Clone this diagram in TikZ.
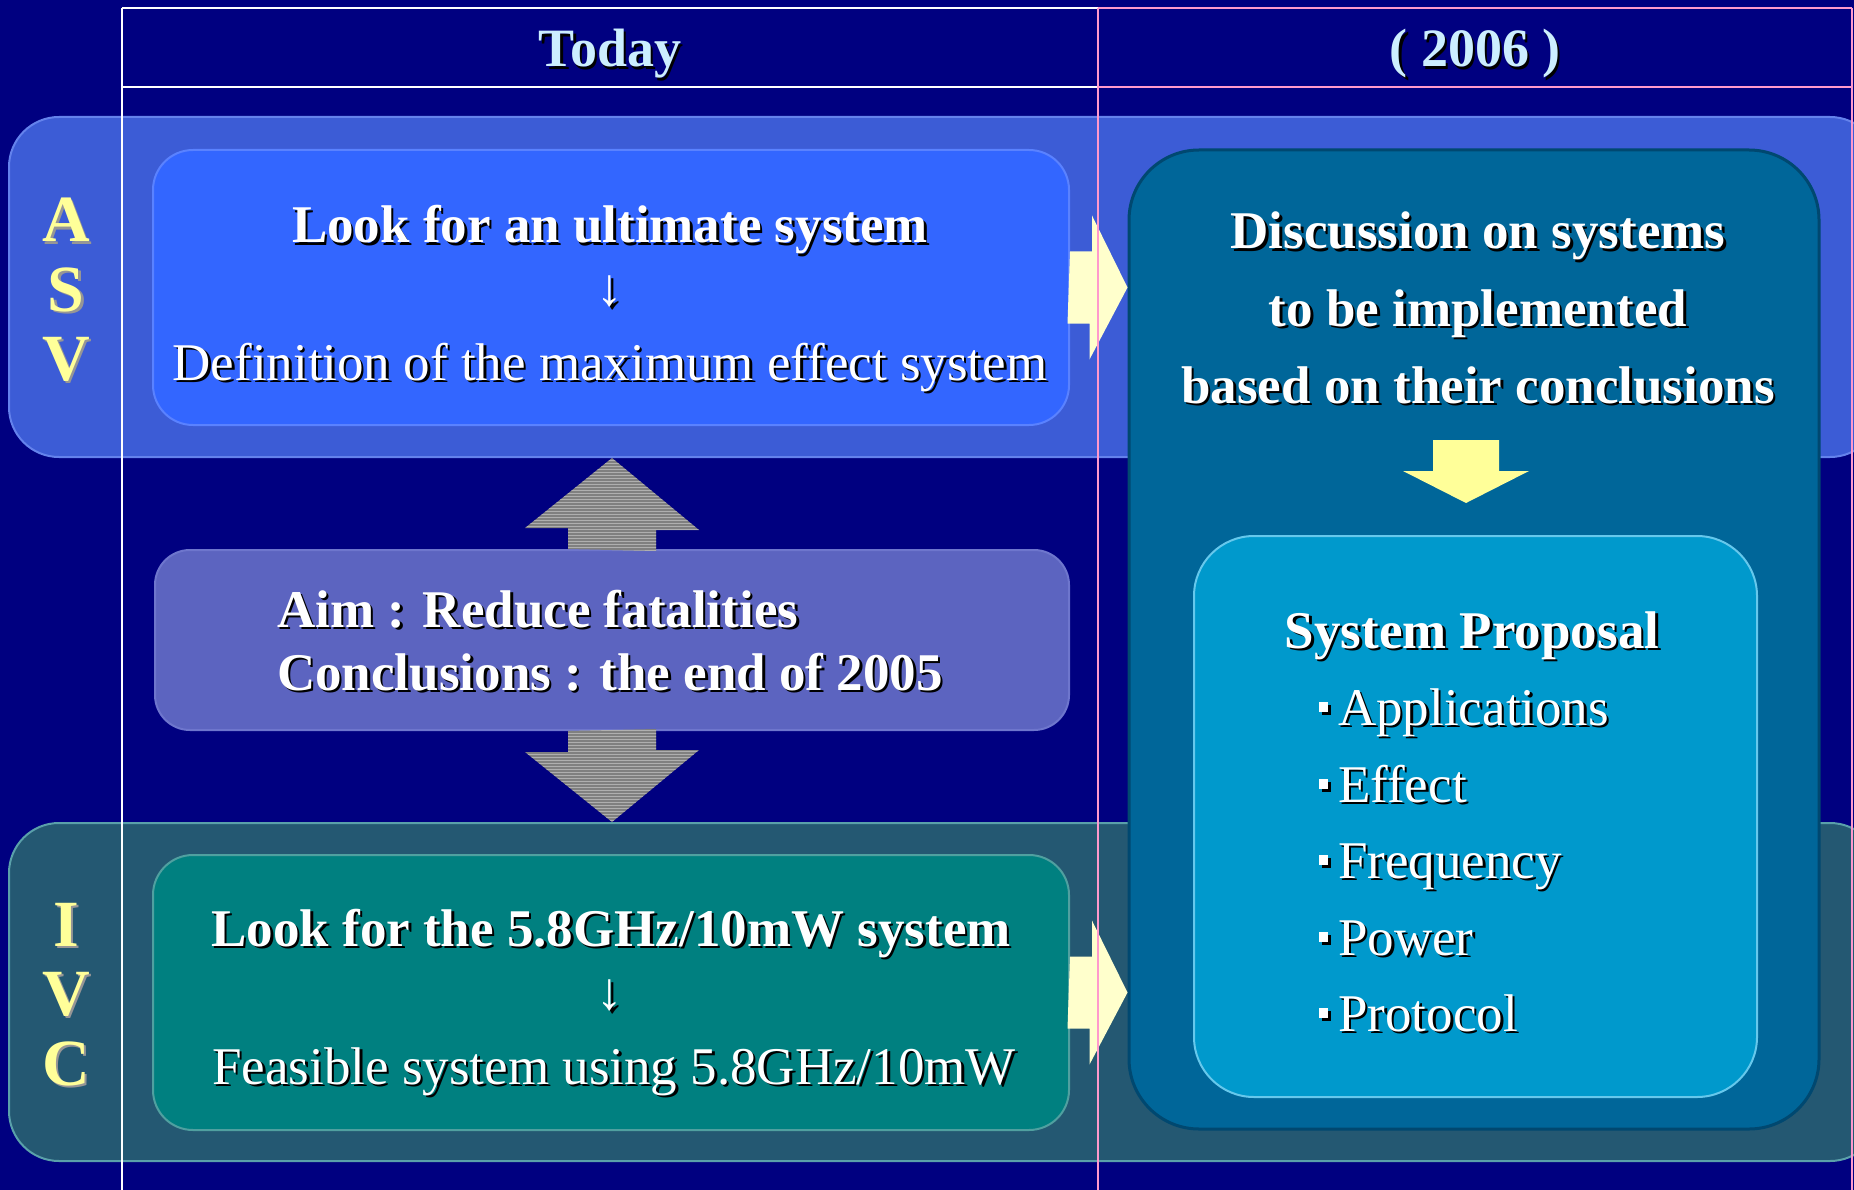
\documentclass[tikz,border=0pt]{standalone}
\usepackage{fontspec}
\setmainfont{Liberation Serif}
\usetikzlibrary{calc,patterns}

\definecolor{navybg}{RGB}{0,0,128}
\definecolor{asvfill}{RGB}{60,92,214}
\definecolor{asvline}{RGB}{100,130,236}
\definecolor{asvbody}{RGB}{51,102,255}
\definecolor{asvbodyline}{RGB}{90,130,255}
\definecolor{ivcfill}{RGB}{36,88,114}
\definecolor{ivcline}{RGB}{90,160,170}
\definecolor{ivcbody}{RGB}{0,128,128}
\definecolor{ivcbodyline}{RGB}{80,160,160}
\definecolor{aimfill}{RGB}{92,100,192}
\definecolor{aimline}{RGB}{110,118,205}
\definecolor{bigfill}{RGB}{0,102,153}
\definecolor{bigline}{RGB}{0,72,112}
\definecolor{propfill}{RGB}{0,153,204}
\definecolor{propline}{RGB}{102,200,236}
\definecolor{lettercol}{RGB}{255,255,153}
\definecolor{lettershade}{RGB}{150,150,150}
\definecolor{headcol}{RGB}{204,238,255}
\definecolor{pinkline}{RGB}{255,153,204}
\definecolor{paleyellow}{RGB}{255,255,204}
\definecolor{grayarrow}{RGB}{128,128,128}
\definecolor{graystripe}{RGB}{175,175,175}

% text with a small drop shadow
\newcommand\shad[2][black]{\makebox[0pt][l]{\hspace{2.5pt}\raisebox{-2.5pt}{\textcolor{#1}{#2}}}#2}

\tikzset{
  band/.style={rounded corners=50pt, line width=2pt},
  panel/.style={rounded corners=40pt, line width=2pt, minimum width=916pt, minimum height=275pt},
  txt/.style={text=white, inner sep=0pt, anchor=base, font=\fontsize{53}{60}\selectfont},
  btxt/.style={txt, font=\fontsize{53}{60}\selectfont\bfseries},
  htxt/.style={text=headcol, inner sep=0pt, anchor=base, font=\fontsize{54}{60}\selectfont\bfseries},
  letter/.style={text=lettercol, inner sep=0pt, anchor=base, font=\fontsize{66}{70}\selectfont\bfseries},
  item/.style={txt, anchor=base west},
  fatarrow/.style={fill=paleyellow},
  greyarrow/.style={fill=grayarrow, postaction={pattern=horizontal lines, pattern color=graystripe}},
  tableline/.style={line width=2pt}
}

\begin{document}
\begin{tikzpicture}[x=1pt,y=-1pt]
\useasboundingbox (0,0) rectangle (1854,1190);
\clip (0,0) rectangle (1854,1190);
\fill[navybg] (0,0) rectangle (1854,1190);

% bands
\node[band, fill=asvfill, draw=asvline, minimum width=1871pt, minimum height=340pt] (asvband) at (944.5,287) {};
\node[band, fill=ivcfill, draw=ivcline, minimum width=1871pt, minimum height=338pt] (ivcband) at (944.5,992) {};

% boxes of today
\node[panel, fill=asvbody, draw=asvbodyline] (asvbox) at (611,287.5) {};
\node[panel, fill=ivcbody, draw=ivcbodyline] (ivcbox) at (611,992.5) {};
\node[panel, fill=aimfill, draw=aimline, rounded corners=35pt, minimum width=914pt, minimum height=180pt] (aim) at (612,640) {};

% grey arrows
\fill[greyarrow] ($(aim.north)+(-44,0)$) -- ++(0,-21) -- ++(-43,0) -- (aim.north |- asvband.south) -- ++(87,72) -- ++(-43,0) -- ++(0,21) -- cycle;
\fill[greyarrow] ($(aim.south)+(-44,0)$) -- ++(0,21) -- ++(-43,0) -- (aim.south |- ivcband.north) -- ++(87,-72) -- ++(-43,0) -- ++(0,-21) -- cycle;

% 2006 column
\node[fill=bigfill, draw=bigline, line width=3pt, rounded corners=70pt, minimum width=690pt, minimum height=979pt] (big) at (1474,639.5) {};
\node[fill=propfill, draw=propline, line width=2pt, rounded corners=60pt, minimum width=563pt, minimum height=561pt] (prop) at (1475.5,816.5) {};

% yellow arrows
\fill[fatarrow] ($(asvbox.east)+(0,-36)$) -- ++(22,0) -- ++(0,-36) -- (asvbox.east -| big.west) -- ++(-38,72) -- ++(0,-36) -- ++(-22,0) -- cycle;
\fill[fatarrow] ($(ivcbox.east)+(0,-36)$) -- ++(22,0) -- ++(0,-36) -- (ivcbox.east -| big.west) -- ++(-38,72) -- ++(0,-36) -- ++(-22,0) -- cycle;
\coordinate (dtop) at (1466,440);
\fill[lettercol] ($(dtop)+(-33,0)$) -- ++(66,0) -- ++(0,31) -- ++(30,0) -- ($(dtop)+(0,63)$) -- ++(-63,-32) -- ++(30,0) -- cycle;

% header
\node[htxt] (today) at (610,67) {\shad{Today}};
\node[htxt] (year) at (1475,67) {\shad{( 2006 )}};

% ASV / IVC letters
\node[letter] (la) at (66,242) {\shad[lettershade]{A}};
\node[letter] (ls) at (66,311) {\shad[lettershade]{S}};
\node[letter] (lv) at (66,380) {\shad[lettershade]{V}};
\node[letter] (li) at (66,946) {\shad[lettershade]{I}};
\node[letter] (lv2) at (66,1015) {\shad[lettershade]{V}};
\node[letter] (lc) at (66,1085) {\shad[lettershade]{C}};

% texts of today
\node[btxt] (asv1) at (610,243) {\shad{Look for an ultimate system}};
\node[txt, anchor=center] (asv2) at (610,293) {\shad{↓}};
\node[txt] (asv3) at (610,380) {\shad{Definition of the maximum effect system}};
\node[btxt, anchor=base west] (aim1) at (277,627) {\shad{Aim : Reduce fatalities}};
\node[btxt, anchor=base west] (aim2) at (277,690) {\shad{Conclusions : the end of 2005}};
\node[btxt] (ivc1) at (611,946) {\shad{Look for the 5.8GHz/10mW system}};
\node[txt, anchor=center] (ivc2) at (610,997) {\shad{↓}};
\node[txt] (ivc3) at (614,1084) {\shad{Feasible system using 5.8GHz/10mW}};

% texts of 2006
\node[btxt] (disc1) at (1478,249) {\shad{Discussion on systems}};
\node[btxt] (disc2) at (1478,326) {\shad{to be implemented}};
\node[btxt] (disc3) at (1478,403) {\shad{based on their conclusions}};
\node[btxt] (ptitle) at (1472,648) {\shad{System Proposal}};
\def\bul{\rule[13pt]{9pt}{10pt}\hspace{10pt}}
\node[item] (p1) at (1319,725) {\shad{\bul Applications}};
\node[item] (p2) at (1319,802) {\shad{\bul Effect}};
\node[item] (p3) at (1319,878) {\shad{\bul Frequency}};
\node[item] (p4) at (1319,955) {\shad{\bul Power}};
\node[item] (p5) at (1319,1031) {\shad{\bul Protocol}};

% table lines
\coordinate (tl) at (122,8);
\coordinate (tm) at (1098,8);
\coordinate (tr) at (1852,8);
\coordinate (hl) at (122,87);
\coordinate (hm) at (1098,87);
\coordinate (hr) at (1852,87);
\draw[tableline, white] (tl) -- (tm) (hl) -- (hm) (tl) -- (tl |- 0,1190);
\draw[tableline, pinkline] (tm) -- (tr) (hm) -- (hr) (tm) -- (tm |- 0,1190) (tr) -- (tr |- 0,1190);
\end{tikzpicture}
\end{document}
